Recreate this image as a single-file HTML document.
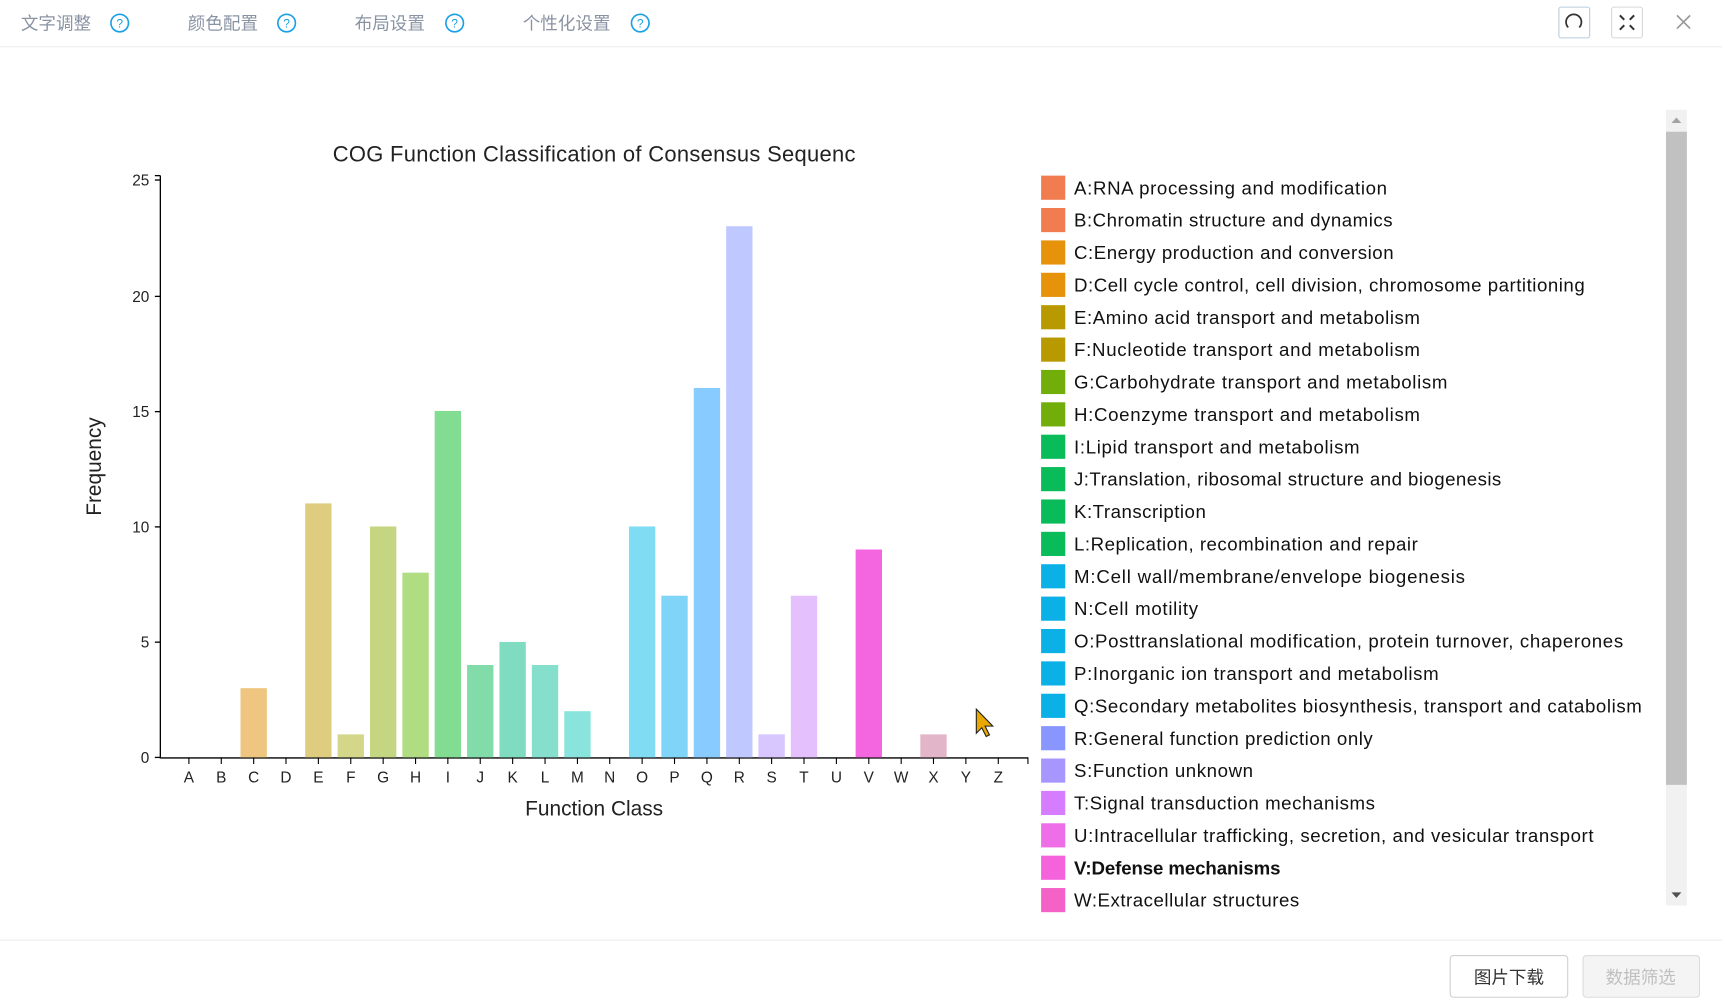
<!DOCTYPE html>
<html><head><meta charset="utf-8"><style>html,body{margin:0;padding:0;background:#fff;overflow:hidden}svg{display:block}</style></head>
<body>
<svg width="1722" height="1000" viewBox="0 0 1568 911" preserveAspectRatio="none" xmlns="http://www.w3.org/2000/svg" font-family="Liberation Sans, Noto Sans CJK SC, sans-serif">
<rect width="1568" height="911" fill="#fff"/>
<g font-size="16" fill="#8a93a3">
<text x="19" y="27">文字调整</text><text x="171" y="27">颜色配置</text><text x="323" y="27">布局设置</text><text x="476" y="27">个性化设置</text>
</g>
<g fill="none" stroke="#1aa0e6" stroke-width="1.5">
<circle cx="109" cy="21" r="8"/><circle cx="261" cy="21" r="8"/><circle cx="414" cy="21" r="8"/><circle cx="583" cy="21" r="8"/>
</g>
<g font-size="11" fill="#1aa0e6" text-anchor="middle"><text x="109" y="25">?</text><text x="261" y="25">?</text><text x="414" y="25">?</text><text x="583" y="25">?</text></g>
<line x1="0" y1="42.5" x2="1568" y2="42.5" stroke="#eeeeee"/>
<rect x="1419.5" y="6.5" width="28" height="28" rx="2" fill="#fff" stroke="#b9cde0"/>
<path d="M1428 25 A7 7 0 1 1 1438 25" fill="none" stroke="#333" stroke-width="1.6"/>
<rect x="1467.5" y="6.5" width="28" height="28" rx="2" fill="#fff" stroke="#d8d8d8"/>
<g stroke="#333" stroke-width="1.8"><path d="M1475 14l4 4M1488 14l-4 4M1475 27l4-4M1488 27l-4-4"/></g>
<path d="M1527 14l12 12M1539 14l-12 12" stroke="#999" stroke-width="1.5"/>
<text x="541" y="147" font-size="20" text-anchor="middle" fill="#222" textLength="476">COG Function Classification of Consensus Sequenc</text>
<g stroke="#000" stroke-width="1.2">
<line x1="146" y1="160" x2="146" y2="691"/><line x1="141" y1="160" x2="146" y2="160"/>
<line x1="146" y1="690.5" x2="936" y2="690.5"/>
<line x1="141" y1="690" x2="146" y2="690"/><line x1="141" y1="585" x2="146" y2="585"/><line x1="141" y1="480" x2="146" y2="480"/><line x1="141" y1="375" x2="146" y2="375"/><line x1="141" y1="270" x2="146" y2="270"/><line x1="141" y1="164" x2="146" y2="164"/>
</g>
<g font-size="14" fill="#222" text-anchor="end">
<text x="136" y="695">0</text><text x="136" y="590">5</text><text x="136" y="485">10</text><text x="136" y="380">15</text><text x="136" y="275">20</text><text x="136" y="169">25</text>
</g>
<text transform="translate(92,425) rotate(-90)" font-size="19" text-anchor="middle" fill="#222">Frequency</text>
<text x="541" y="743" font-size="19" text-anchor="middle" fill="#222">Function Class</text>
<g>
<rect x="219" y="626.9" width="24" height="63.1" fill="#eec67f"/>
<rect x="277.9" y="458.6" width="24" height="231.4" fill="#dfcd7f"/>
<rect x="307.4" y="669" width="24" height="21" fill="#d4d68a"/>
<rect x="336.9" y="479.6" width="24" height="210.4" fill="#c4d682"/>
<rect x="366.4" y="521.7" width="24" height="168.3" fill="#b0dc82"/>
<rect x="395.8" y="374.4" width="24" height="315.6" fill="#82dc92"/>
<rect x="425.3" y="605.8" width="24" height="84.2" fill="#82dcaa"/>
<rect x="454.8" y="584.8" width="24" height="105.2" fill="#80dcc0"/>
<rect x="484.3" y="605.8" width="24" height="84.2" fill="#86dfcc"/>
<rect x="513.8" y="647.9" width="24" height="42.1" fill="#88e4dc"/>
<rect x="572.7" y="479.6" width="24" height="210.4" fill="#80dcf2"/>
<rect x="602.2" y="542.7" width="24" height="147.3" fill="#80d4f8"/>
<rect x="631.7" y="353.4" width="24" height="336.6" fill="#88ccff"/>
<rect x="661.2" y="206.1" width="24" height="483.9" fill="#bfc8ff"/>
<rect x="690.6" y="669" width="24" height="21" fill="#d8c6ff"/>
<rect x="720.1" y="542.7" width="24" height="147.3" fill="#e4c0fc"/>
<rect x="779.1" y="500.6" width="24" height="189.4" fill="#f466e0"/>
<rect x="838" y="669" width="24" height="21" fill="#e2b6c8"/>
</g>
<g stroke="#000" stroke-width="1">
<path d="M172 690v6M201.5 690v6M231 690v6M260.4 690v6M289.9 690v6M319.4 690v6M348.9 690v6M378.4 690v6M407.8 690v6M437.3 690v6M466.8 690v6M496.3 690v6M525.8 690v6M555.2 690v6M584.7 690v6M614.2 690v6M643.7 690v6M673.2 690v6M702.6 690v6M732.1 690v6M761.6 690v6M791.1 690v6M820.6 690v6M850 690v6M879.5 690v6M909 690v6M936 690v6"/>
</g>
<g font-size="14" fill="#222" text-anchor="middle">
<text x="172" y="713">A</text><text x="201.5" y="713">B</text><text x="231" y="713">C</text><text x="260.4" y="713">D</text><text x="289.9" y="713">E</text><text x="319.4" y="713">F</text><text x="348.9" y="713">G</text><text x="378.4" y="713">H</text><text x="407.8" y="713">I</text><text x="437.3" y="713">J</text><text x="466.8" y="713">K</text><text x="496.3" y="713">L</text><text x="525.8" y="713">M</text><text x="555.2" y="713">N</text><text x="584.7" y="713">O</text><text x="614.2" y="713">P</text><text x="643.7" y="713">Q</text><text x="673.2" y="713">R</text><text x="702.6" y="713">S</text><text x="732.1" y="713">T</text><text x="761.6" y="713">U</text><text x="791.1" y="713">V</text><text x="820.6" y="713">W</text><text x="850" y="713">X</text><text x="879.5" y="713">Y</text><text x="909" y="713">Z</text>
</g>
<path d="M889 646l0 22l5-5l4 8l3-1.5l-4-8l7 0z" fill="#e8a800" stroke="#222" stroke-width="1"/>
<g>
<rect x="948" y="160" width="22" height="22" fill="#f07c50"/>
<rect x="948" y="189.5" width="22" height="22" fill="#f07c50"/>
<rect x="948" y="219" width="22" height="22" fill="#e6920a"/>
<rect x="948" y="248.5" width="22" height="22" fill="#e6920a"/>
<rect x="948" y="278" width="22" height="22" fill="#b89a00"/>
<rect x="948" y="307.5" width="22" height="22" fill="#b89a00"/>
<rect x="948" y="337" width="22" height="22" fill="#72ae0a"/>
<rect x="948" y="366.5" width="22" height="22" fill="#72ae0a"/>
<rect x="948" y="396" width="22" height="22" fill="#0abb5a"/>
<rect x="948" y="425.5" width="22" height="22" fill="#0abb5a"/>
<rect x="948" y="455" width="22" height="22" fill="#0abb5a"/>
<rect x="948" y="484.5" width="22" height="22" fill="#0abb5a"/>
<rect x="948" y="514" width="22" height="22" fill="#0ab0e6"/>
<rect x="948" y="543.5" width="22" height="22" fill="#0ab0e6"/>
<rect x="948" y="573" width="22" height="22" fill="#0ab0e6"/>
<rect x="948" y="602.5" width="22" height="22" fill="#0ab0e6"/>
<rect x="948" y="632" width="22" height="22" fill="#0ab0e6"/>
<rect x="948" y="661.5" width="22" height="22" fill="#8a96ff"/>
<rect x="948" y="691" width="22" height="22" fill="#a896ff"/>
<rect x="948" y="720.5" width="22" height="22" fill="#d67cff"/>
<rect x="948" y="750" width="22" height="22" fill="#ee6ee8"/>
<rect x="948" y="779.5" width="22" height="22" fill="#f462dc"/>
<rect x="948" y="809" width="22" height="22" fill="#f462c8"/>
</g>
<g font-size="17" fill="#111" lengthAdjust="spacingAndGlyphs">
<text x="978" y="177" textLength="285">A:RNA processing and modification</text>
<text x="978" y="206.5" textLength="290">B:Chromatin structure and dynamics</text>
<text x="978" y="236" textLength="291">C:Energy production and conversion</text>
<text x="978" y="265.5" textLength="465">D:Cell cycle control, cell division, chromosome partitioning</text>
<text x="978" y="295" textLength="315">E:Amino acid transport and metabolism</text>
<text x="978" y="324.5" textLength="315">F:Nucleotide transport and metabolism</text>
<text x="978" y="354" textLength="340">G:Carbohydrate transport and metabolism</text>
<text x="978" y="383.5" textLength="315">H:Coenzyme transport and metabolism</text>
<text x="978" y="413" textLength="260">I:Lipid transport and metabolism</text>
<text x="978" y="442.5" textLength="389">J:Translation, ribosomal structure and biogenesis</text>
<text x="978" y="472" textLength="120">K:Transcription</text>
<text x="978" y="501.5" textLength="313">L:Replication, recombination and repair</text>
<text x="978" y="531" textLength="356">M:Cell wall/membrane/envelope biogenesis</text>
<text x="978" y="560.5" textLength="113">N:Cell motility</text>
<text x="978" y="590" textLength="500">O:Posttranslational modification, protein turnover, chaperones</text>
<text x="978" y="619.5" textLength="332">P:Inorganic ion transport and metabolism</text>
<text x="978" y="649" textLength="517">Q:Secondary metabolites biosynthesis, transport and catabolism</text>
<text x="978" y="678.5" textLength="272">R:General function prediction only</text>
<text x="978" y="708" textLength="163">S:Function unknown</text>
<text x="978" y="737.5" textLength="274">T:Signal transduction mechanisms</text>
<text x="978" y="767" textLength="473">U:Intracellular trafficking, secretion, and vesicular transport</text>
<text x="978" y="796.5" font-weight="bold" textLength="188">V:Defense mechanisms</text>
<text x="978" y="826" textLength="205">W:Extracellular structures</text>
</g>
<rect x="1517" y="100" width="19" height="725" fill="#f1f1f1"/>
<rect x="1517" y="120" width="19" height="595" fill="#c1c1c1"/>
<path d="M1522 112l4.5-5l4.5 5z" fill="#a3a3a3"/><path d="M1522 813l4.5 5l4.5-5z" fill="#505050"/>
<line x1="0" y1="856.5" x2="1568" y2="856.5" stroke="#eeeeee"/>
<rect x="1320.5" y="870.5" width="107" height="38" rx="3" fill="#fff" stroke="#d0d0d0"/>
<text x="1374" y="896" font-size="16" text-anchor="middle" fill="#333">图片下载</text>
<rect x="1441.5" y="870.5" width="106" height="38" rx="3" fill="#f4f4f4" stroke="#dcdcdc"/>
<text x="1494" y="896" font-size="16" text-anchor="middle" fill="#c0c0c0">数据筛选</text>
</svg>
</body></html>
